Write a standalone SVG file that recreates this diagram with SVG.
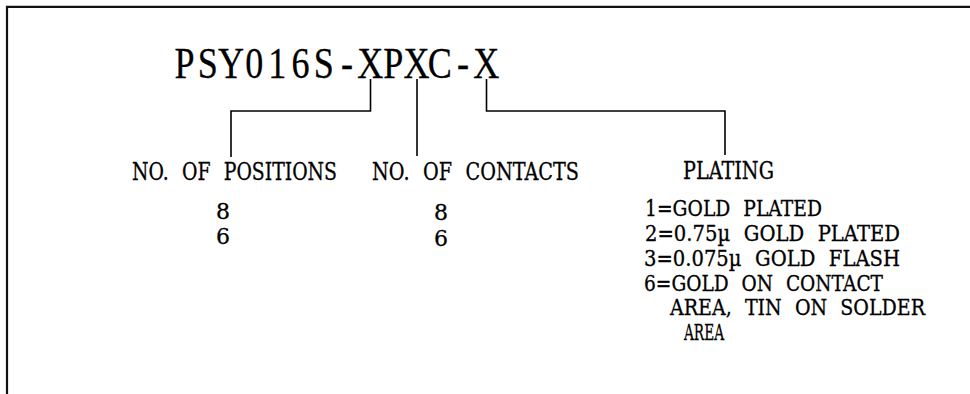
<svg xmlns="http://www.w3.org/2000/svg" width="970" height="394" viewBox="0 0 970 394">
<style>
text{font-family:"DejaVu Serif","Liberation Serif",serif;fill:#000;stroke:#000;stroke-width:0.3}
.ttl{font-family:"Liberation Serif","Times New Roman",serif;font-size:44px}
.lbl{font-size:23.5px;word-spacing:9px}
.pl{font-size:21.4px;word-spacing:8px}
.conn{fill:none;stroke:#000;stroke-width:1.6}
.frame{fill:none;stroke:#111;stroke-width:2.2}
</style>
<rect x="0" y="0" width="970" height="394" fill="#fff"/>
<g id="frame"><polyline class="frame" points="7,394 7,6.8 970,6.8"/></g>
<g id="title">
<text class="ttl" transform="matrix(0.82 0 0 1 0 78)" text-anchor="middle" x="225.12 253.41 281.71 310.00 338.29 366.59 394.88 423.17 451.46 479.76 508.05 536.34 564.63 592.93" y="0">PSY016S-XPXC-X</text>
</g>
<g id="connectors">
<polyline class="conn" points="370.5,79 370.5,111 231,111 231,157"/>
<line class="conn" x1="417" y1="79" x2="417" y2="156"/>
<polyline class="conn" points="486.5,79 486.5,111 725,111 725,155"/>
</g>
<g id="positions">
<text class="lbl" x="132" y="180" textLength="205" lengthAdjust="spacingAndGlyphs">NO. OF POSITIONS</text>
<text class="pl" x="216" y="219" textLength="14" lengthAdjust="spacingAndGlyphs">8</text>
<text class="pl" x="216" y="244" textLength="14" lengthAdjust="spacingAndGlyphs">6</text>
</g>
<g id="contacts">
<text class="lbl" x="372" y="180" textLength="207" lengthAdjust="spacingAndGlyphs">NO. OF CONTACTS</text>
<text class="pl" x="434" y="220" textLength="14" lengthAdjust="spacingAndGlyphs">8</text>
<text class="pl" x="434" y="246" textLength="14" lengthAdjust="spacingAndGlyphs">6</text>
</g>
<g id="plating">
<text class="lbl" x="683" y="179" textLength="91" lengthAdjust="spacingAndGlyphs">PLATING</text>
<text class="pl" x="645" y="216" textLength="177" lengthAdjust="spacingAndGlyphs">1=GOLD PLATED</text>
<text class="pl" x="645" y="241" textLength="255" lengthAdjust="spacingAndGlyphs">2=0.75µ GOLD PLATED</text>
<text class="pl" x="644" y="266" textLength="256" lengthAdjust="spacingAndGlyphs">3=0.075µ GOLD FLASH</text>
<text class="pl" x="644" y="291" textLength="239" lengthAdjust="spacingAndGlyphs">6=GOLD ON CONTACT</text>
<text class="pl" x="670" y="315" textLength="255" lengthAdjust="spacingAndGlyphs">AREA, TIN ON SOLDER</text>
<text class="pl" x="684" y="340" textLength="40" lengthAdjust="spacingAndGlyphs">AREA</text>
</g>
</svg>
